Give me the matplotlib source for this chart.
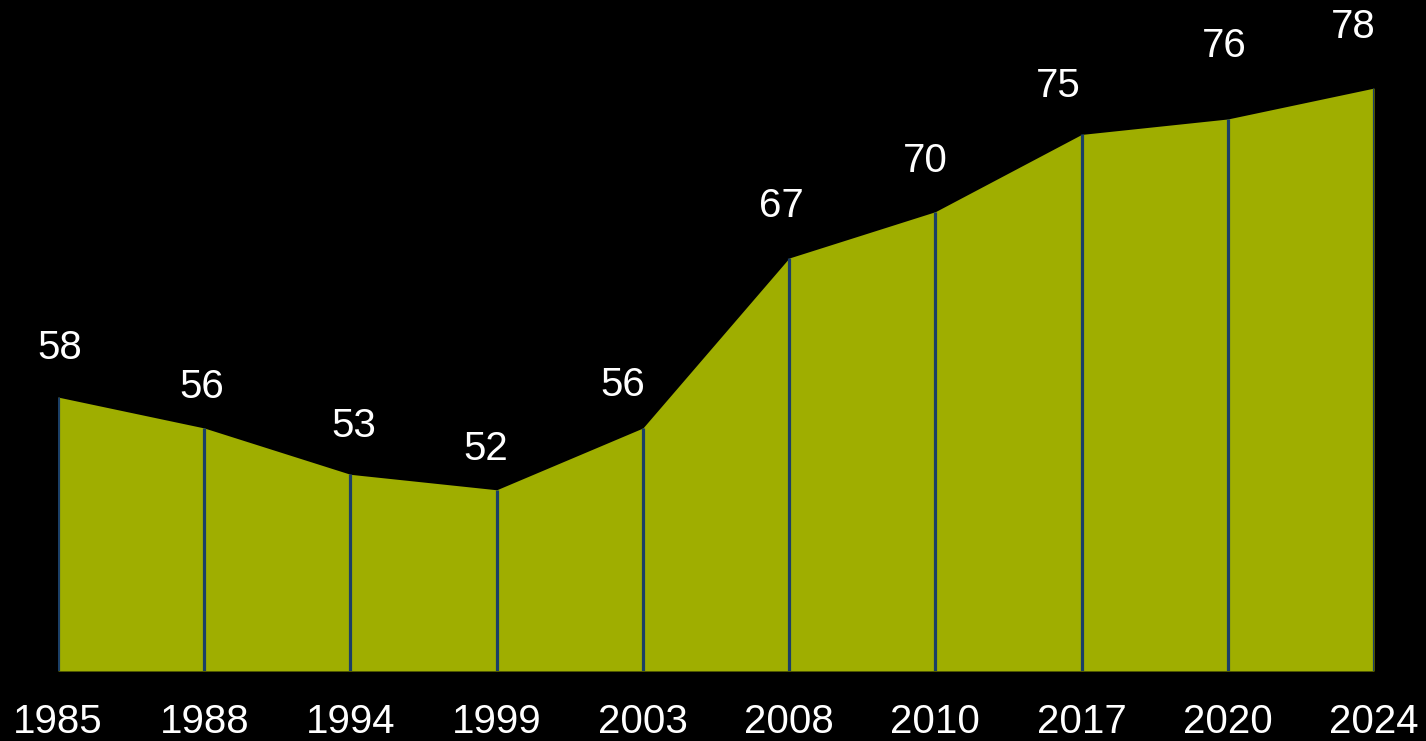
import matplotlib
matplotlib.use("Agg")
import matplotlib.pyplot as plt

years = ["1985", "1988", "1994", "1999", "2003", "2008", "2010", "2017", "2020", "2024"]
values = [58, 56, 53, 52, 56, 67, 70, 75, 76, 78]

plt.rcParams['font.family'] = ['Liberation Sans', 'DejaVu Sans']

W, H = 1426, 741
fig = plt.figure(figsize=(W / 100, H / 100), dpi=100, facecolor="black")
left, right = 58 / W, 1374 / W
bottom = (H - 671) / H
top = 1.0
ax = fig.add_axes([left, bottom, right - left, top - bottom])
ax.set_facecolor("black")

x = list(range(len(years)))
ymin = 40.27
px_per_unit = 15.45
ymax = ymin + 671 / px_per_unit
ax.set_xlim(0, len(years) - 1)
ax.set_ylim(ymin, ymax)

ax.fill_between(x, ymin, values, color="#9FAE00", linewidth=0, zorder=1)
ax.vlines(x, ymin, values, color="#1B3F66", linewidth=2.3, zorder=2)

# label placement nudges (pixels) as in the reference layout
label_dx = [2, -2, 3, -11, -20, -8, -10, -23, -4, -21]
label_dy = [49, 41, 48, 41, 43, 52, 51, 48, 73, 61]
for i, v in enumerate(values):
    ax.annotate(str(v), (i, v), xytext=(label_dx[i] * 0.72, label_dy[i] * 0.72),
                textcoords="offset points", ha="center", va="center",
                color="white", fontsize=29, clip_on=False)

ax.set_xticks(x)
ax.set_xticklabels(years, color="white", fontsize=29)
ax.tick_params(axis="x", length=0, pad=23)
ax.set_yticks([])
for s in ax.spines.values():
    s.set_visible(False)

fig.savefig("out.png", dpi=100, facecolor="black")
